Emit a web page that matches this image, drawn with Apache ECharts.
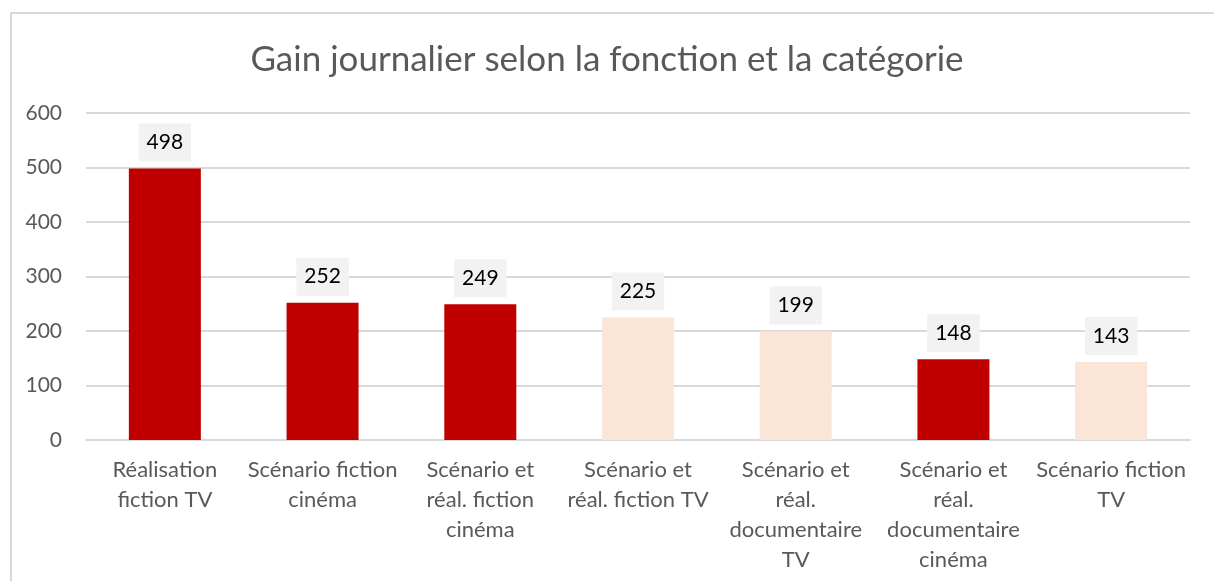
<!DOCTYPE html>
<html lang="fr">
<head>
  <meta charset="UTF-8">
  <title>Gain journalier selon la fonction et la catégorie</title>
  <script src="https://cdn.jsdelivr.net/npm/echarts@6/dist/echarts.min.js"></script>
  <style>
    body {
      margin: 0;
      background-color: #ffffff;
    }
    #main {
      width: 1214px;
      height: 581px;
    }
  </style>
</head>
<body>
  <div id="main"></div>

  <script>
    // Données
    const categories = [
      'Réalisation\nfiction TV',
      'Scénario fiction\ncinéma',
      'Scénario et\nréal. fiction\ncinéma',
      'Scénario et\nréal. fiction TV',
      'Scénario et\nréal.\ndocumentaire\nTV',
      'Scénario et\nréal.\ndocumentaire\ncinéma',
      'Scénario fiction\nTV'
    ];
    const gains = [498, 252, 249, 225, 199, 148, 143];
    // barres mises en avant (rouge foncé) ou non (pêche)
    const enAvant = [true, true, true, false, false, true, false];

    const rouge = '#C00000';
    const peche = '#FBE5D6';
    const gris = '#595959';
    const police = 'Lato, "Open Sans", sans-serif';

    var chartDom = document.getElementById('main');
    var myChart = echarts.init(chartDom);

    var option = {
      backgroundColor: '#ffffff',
      animation: false,
      textStyle: { fontFamily: police },
      title: {
        text: 'Gain journalier selon la fonction et la catégorie',
        left: 'center',
        top: 37,
        textStyle: { fontFamily: police, fontSize: 35, fontWeight: 'normal', color: gris }
      },
      graphic: [{
        type: 'rect',
        shape: { x: 11, y: 13, width: 1400, height: 800 },
        style: { fill: 'none', stroke: '#D9D9D9', lineWidth: 2 },
        silent: true
      }],
      grid: { left: 86, right: 24, top: 113, bottom: 141 },
      xAxis: {
        type: 'category',
        data: categories,
        axisLine: { lineStyle: { color: '#D9D9D9', width: 2 } },
        axisTick: { show: false },
        axisLabel: {
          color: gris,
          fontSize: 22,
          lineHeight: 30,
          margin: 15,
          interval: 0,
          fontFamily: police
        }
      },
      yAxis: {
        type: 'value',
        min: 0,
        max: 600,
        interval: 100,
        axisLine: { show: false },
        axisTick: { show: false },
        axisLabel: { color: gris, fontSize: 21, margin: 24, fontFamily: police },
        splitLine: { lineStyle: { color: '#D9D9D9', width: 2 } }
      },
      series: [{
        type: 'bar',
        barWidth: 72,
        data: gains.map((v, i) => ({
          value: v,
          itemStyle: { color: enAvant[i] ? rouge : peche }
        })),
        label: {
          show: true,
          position: 'top',
          distance: 7,
          color: '#000000',
          fontSize: 21,
          lineHeight: 22,
          fontFamily: police,
          backgroundColor: '#F2F2F2',
          padding: [8, 8]
        }
      }]
    };

    myChart.setOption(option);
  </script>
</body>
</html>
